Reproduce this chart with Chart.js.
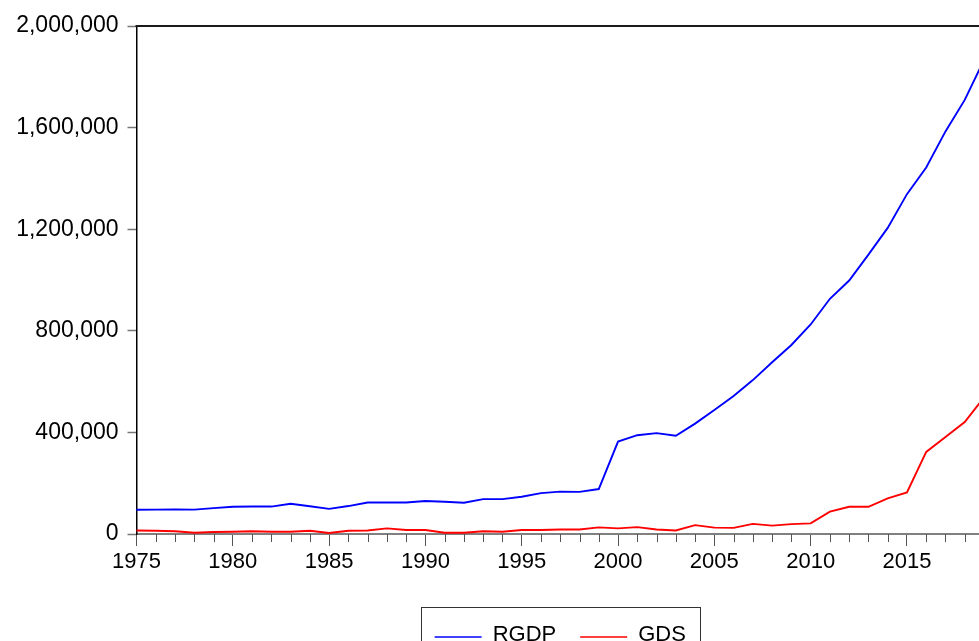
<!DOCTYPE html>
<html>
<head>
<meta charset="utf-8">
<script src="https://cdn.jsdelivr.net/npm/chart.js@4"></script>
<style>
  html, body { margin: 0; padding: 0; background: #fff; overflow: hidden; }
  #wrap { width: 979px; height: 641px; overflow: hidden; position: relative; }
  canvas { display: block; }
</style>
</head>
<body>
<div id="wrap"><canvas id="c" width="1000" height="641" style="width:1000px;height:641px"></canvas></div>
<script>
const years = [1975,1976,1977,1978,1979,1980,1981,1982,1983,1984,1985,1986,1987,1988,1989,
  1990,1991,1992,1993,1994,1995,1996,1997,1998,1999,2000,2001,2002,2003,2004,
  2005,2006,2007,2008,2009,2010,2011,2012,2013,2014,2015,2016,2017,2018,2019];

const rgdp = [95500,96000,97000,96000,102000,107000,108000,108000,119000,109000,
  99000,110000,124000,124000,124000,130000,127000,123000,137500,137500,
  146600,161000,167000,166000,177000,364000,389000,397000,387000,434500,
  488000,543000,606000,676000,744000,825000,926000,998000,1100000,1205000,
  1338000,1443000,1585000,1709000,1866000];

const gds = [14000,13000,11000,5000,8000,9000,11000,9000,9000,13000,
  4000,13000,14000,22000,16000,16000,5000,5000,11000,9000,
  16000,16000,18000,18000,26000,22000,27000,18000,14000,35000,
  25000,24000,40000,33000,39000,42000,88000,107000,107000,140000,
  164000,323000,382000,441000,538000];

const yTicks = [0, 400000, 800000, 1200000, 1600000, 2000000];
const seriesNames = ['RGDP', 'GDS'];
const seriesColors = ['#0000ff', '#ff0000'];

const FONT = '"Liberation Sans", Arial, sans-serif';
const FSIZE = 22;

const framePlugin = {
  id: 'frame',
  afterDraw(chart) {
    const ctx = chart.ctx;
    const a = chart.chartArea;
    const xs = chart.scales.x;
    ctx.save();
    // top border
    ctx.strokeStyle = '#1a1a1a';
    ctx.lineWidth = 2;
    ctx.beginPath();
    ctx.moveTo(a.left - 1, a.top);
    ctx.lineTo(a.right, a.top);
    ctx.moveTo(a.right, a.top);
    ctx.lineTo(a.right, a.bottom);
    ctx.stroke();
    // minor ticks
    ctx.strokeStyle = '#555';
    ctx.lineWidth = 1;
    years.forEach((y, i) => {
      if (y % 5 !== 0) {
        const x = Math.round(xs.getPixelForValue(i)) + 0.5;
        ctx.beginPath();
        ctx.moveTo(x, a.bottom);
        ctx.lineTo(x, a.bottom + 8);
        ctx.stroke();
      }
    });
    // legend
    ctx.font = FSIZE + 'px ' + FONT;
    const lineLen = 47, gapLT = 11, gapItems = 24, pad = 14;
    const widths = seriesNames.map(n => ctx.measureText(n).width);
    let total = 0;
    widths.forEach((w, i) => { total += lineLen + gapLT + w + (i ? gapItems : 0); });
    const cx = (a.left + a.right) / 2;
    const boxL = Math.round(cx - total / 2 - pad) + 0.5;
    const boxR = Math.round(cx + total / 2 + pad) + 0.5;
    const boxT = 607.5;
    ctx.strokeStyle = '#333';
    ctx.lineWidth = 1;
    ctx.strokeRect(boxL, boxT, boxR - boxL, 60);
    let x = cx - total / 2;
    const ly = 637;
    seriesNames.forEach((n, i) => {
      if (i) x += gapItems;
      ctx.strokeStyle = seriesColors[i];
      ctx.lineWidth = 1.5;
      ctx.beginPath();
      ctx.moveTo(x, ly);
      ctx.lineTo(x + lineLen, ly);
      ctx.stroke();
      x += lineLen + gapLT;
      ctx.fillStyle = '#000';
      ctx.textBaseline = 'alphabetic';
      ctx.textAlign = 'left';
      ctx.fillText(n, x, 641);
      x += widths[i];
    });
    ctx.restore();
  }
};

new Chart(document.getElementById('c'), {
  type: 'line',
  data: {
    labels: years.map(String),
    datasets: [
      { label: seriesNames[0], data: rgdp, borderColor: seriesColors[0], borderWidth: 1.9, pointRadius: 0, tension: 0, fill: false },
      { label: seriesNames[1], data: gds, borderColor: seriesColors[1], borderWidth: 1.9, pointRadius: 0, tension: 0, fill: false }
    ]
  },
  options: {
    responsive: false,
    animation: false,
    devicePixelRatio: 1,
    layout: { padding: { left: 0, right: 16, top: 26, bottom: 0 } },
    plugins: { legend: { display: false }, tooltip: { enabled: false } },
    scales: {
      x: {
        type: 'category',
        offset: false,
        afterFit(s) { s.height = 107; },
        grid: {
          display: true,
          drawOnChartArea: false,
          drawTicks: true,
          tickLength: 12,
          tickWidth: 1,
          tickColor: (c) => (years[c.index] % 5 === 0 ? '#555' : 'rgba(0,0,0,0)')
        },
        border: { display: true, color: '#808080', width: 2 },
        ticks: {
          autoSkip: false,
          maxRotation: 0,
          minRotation: 0,
          padding: 3,
          color: '#000',
          font: { family: FONT, size: FSIZE },
          callback(v, i) { return years[i] % 5 === 0 ? String(years[i]) : ''; }
        }
      },
      y: {
        min: 0,
        max: 2000000,
        afterFit(s) { s.width = 136.5; },
        afterBuildTicks(s) { s.ticks = yTicks.map(v => ({ value: v })); },
        grid: {
          display: true,
          drawOnChartArea: false,
          drawTicks: true,
          tickLength: 9,
          tickColor: '#777',
          tickWidth: 1.5
        },
        border: { display: true, color: '#000', width: 1.5 },
        ticks: {
          padding: 9,
          color: '#000',
          font: { family: FONT, size: 23 },
          callback(v) { return Number(v).toLocaleString('en-US'); }
        }
      }
    }
  },
  plugins: [framePlugin]
});
</script>
</body>
</html>
